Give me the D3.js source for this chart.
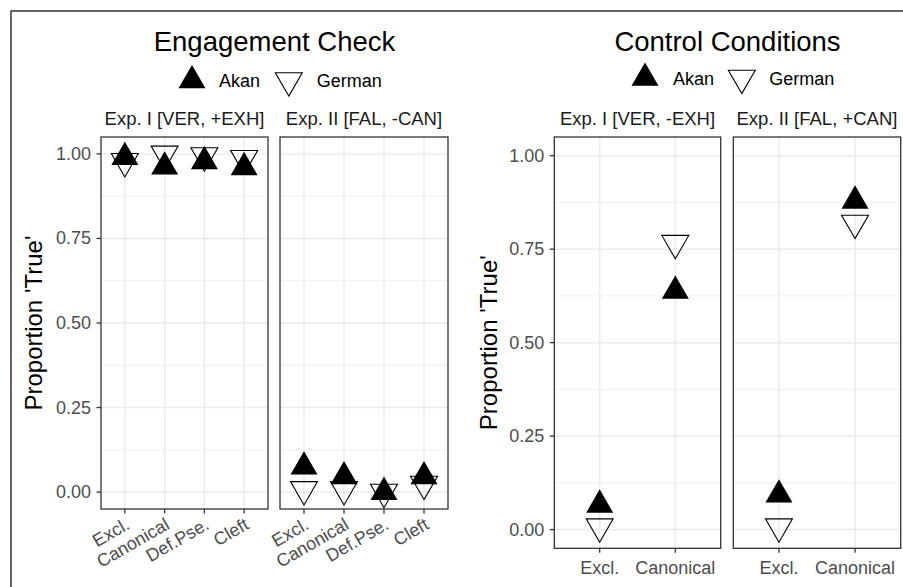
<!DOCTYPE html>
<html lang="en">
<head>
<meta charset="UTF-8">
<title>Engagement Check and Control Conditions</title>
<script src="https://d3js.org/d3.v7.min.js"></script>
<style>
  * { margin: 0; padding: 0; }
  body { background: white; width: 903px; height: 587px; overflow: hidden; }
  svg { display: block; font-family: "Liberation Sans", Arial, Helvetica, sans-serif; }
</style>
</head>
<body>
<svg id="chart" width="903" height="587"></svg>
<script>
// values
const engageConditions = ["Excl.", "Canonical", "Def.Pse.", "Cleft"];
const engageFacets = ["Exp. I [VER, +EXH]", "Exp. II [FAL, -CAN]"];
const engageAkan = [[0.99, 0.962, 0.978, 0.96], [0.075, 0.046, 0.0, 0.046]];
const engageGerman = [[0.978, 1.0, 0.995, 0.987], [0.008, 0.008, 0.0, 0.024]];

const controlConditions = ["Excl.", "Canonical"];
const controlFacets = ["Exp. I [VER, -EXH]", "Exp. II [FAL, +CAN]"];
const controlAkan = [[0.066, 0.638], [0.093, 0.879]];
const controlGerman = [[0.008, 0.766], [0.008, 0.82]];

const yTicks = [0, 0.25, 0.5, 0.75, 1];
const yMinor = [0.125, 0.375, 0.625, 0.875];
const groups = ["Akan", "German"];

const svg = d3.select("#chart");

// outer frame (cropped at right and bottom)
svg.append("path")
    .attr("d", "M11,600V11H910")
    .attr("fill", "none")
    .attr("stroke", "#333")
    .attr("stroke-width", 1.5);

const triangle = d3.symbol().type(d3.symbolTriangle).size(315);

function drawPlot(cfg) {
    const g = svg.append("g");
    const y = d3.scaleLinear().domain([-0.05, 1.05]).range([cfg.bottom, cfg.top]);

    g.append("text")
        .attr("x", cfg.titleX).attr("y", 51)
        .attr("text-anchor", "middle")
        .style("font-size", "27.5px")
        .text(cfg.title);

    // legend
    groups.forEach((grp, i) => {
        const key = g.append("path")
            .attr("d", triangle())
            .attr("transform", `translate(${cfg.keyX[i]},${cfg.legendY})` + (i === 1 ? " rotate(180)" : ""));
        if (i === 0) key.attr("fill", "#000");
        else key.attr("fill", "none").attr("stroke", "#000").attr("stroke-width", 1.1);
        g.append("text")
            .attr("x", cfg.textX[i]).attr("y", cfg.legendY + 6.5)
            .style("font-size", "18px")
            .text(grp);
    });

    // y axis title
    g.append("text")
        .attr("transform", `translate(${cfg.axisTitleX},${(cfg.top + cfg.bottom) / 2}) rotate(-90)`)
        .attr("text-anchor", "middle")
        .style("font-size", "24px")
        .text("Proportion 'True'");

    // y tick labels
    const left = cfg.panels[0][0];
    yTicks.forEach(t => {
        g.append("line")
            .attr("x1", left - 4.5).attr("x2", left)
            .attr("y1", y(t)).attr("y2", y(t))
            .attr("stroke", "#333").attr("stroke-width", 1.3);
        g.append("text")
            .attr("x", left - 10).attr("y", y(t))
            .attr("text-anchor", "end")
            .attr("dominant-baseline", "central")
            .attr("fill", "#4d4d4d")
            .style("font-size", "18px")
            .text(t.toFixed(2));
    });

    cfg.facets.forEach((facet, f) => {
        const [x0, x1] = cfg.panels[f];
        const x = d3.scalePoint().domain(cfg.conds).range([x0, x1]).padding(0.6);
        const p = g.append("g");

        p.append("text")
            .attr("x", (x0 + x1) / 2).attr("y", cfg.top - 12.5)
            .attr("text-anchor", "middle")
            .attr("fill", "#1a1a1a")
            .style("font-size", "18.5px")
            .text(facet);

        p.selectAll(".minor").data(yMinor).join("line")
            .attr("x1", x0).attr("x2", x1)
            .attr("y1", d => y(d)).attr("y2", d => y(d))
            .attr("stroke", "#ebebeb").attr("stroke-width", 0.8);
        p.selectAll(".major").data(yTicks).join("line")
            .attr("x1", x0).attr("x2", x1)
            .attr("y1", d => y(d)).attr("y2", d => y(d))
            .attr("stroke", "#ebebeb").attr("stroke-width", 1.5);
        p.selectAll(".vgrid").data(cfg.conds).join("line")
            .attr("x1", d => x(d)).attr("x2", d => x(d))
            .attr("y1", cfg.top).attr("y2", cfg.bottom)
            .attr("stroke", "#ebebeb").attr("stroke-width", 1.5);

        const pts = [];
        cfg.conds.forEach((c, i) => {
            pts.push({ cond: c, grp: "Akan", v: cfg.akan[f][i] });
            pts.push({ cond: c, grp: "German", v: cfg.german[f][i] });
        });
        p.selectAll(".pt").data(pts).join("path")
            .attr("d", triangle())
            .attr("transform", d => `translate(${x(d.cond)},${y(d.v)})` + (d.grp === "German" ? " rotate(180)" : ""))
            .attr("fill", d => d.grp === "Akan" ? "#000" : "none")
            .attr("stroke", d => d.grp === "German" ? "#000" : "none")
            .attr("stroke-width", 1.1);

        p.append("rect")
            .attr("x", x0).attr("y", cfg.top)
            .attr("width", x1 - x0).attr("height", cfg.bottom - cfg.top)
            .attr("fill", "none").attr("stroke", "#333").attr("stroke-width", 1.3);

        // x ticks and labels
        cfg.conds.forEach(c => {
            p.append("line")
                .attr("x1", x(c)).attr("x2", x(c))
                .attr("y1", cfg.bottom).attr("y2", cfg.bottom + 4.5)
                .attr("stroke", "#333").attr("stroke-width", 1.3);
            const lab = p.append("text")
                .attr("fill", "#4d4d4d")
                .style("font-size", "18px")
                .text(c);
            if (cfg.rotate) {
                lab.attr("text-anchor", "end")
                    .attr("transform", `translate(${x(c) + 6},${cfg.bottom + 19}) rotate(-30)`);
            } else {
                lab.attr("text-anchor", "middle")
                    .attr("x", x(c)).attr("y", cfg.bottom + 25.5);
            }
        });
    });
}

drawPlot({
    title: "Engagement Check",
    facets: engageFacets, conds: engageConditions,
    akan: engageAkan, german: engageGerman,
    panels: [[101, 268], [280, 448]], top: 137, bottom: 509,
    titleX: 274.5, legendY: 80.5, keyX: [192, 288.8], textX: [219, 316.7],
    axisTitleX: 42.3, rotate: true
});

drawPlot({
    title: "Control Conditions",
    facets: controlFacets, conds: controlConditions,
    akan: controlAkan, german: controlGerman,
    panels: [[554.3, 720.7], [733.3, 900.7]], top: 137, bottom: 548.3,
    titleX: 727.5, legendY: 78, keyX: [645, 741.8], textX: [673, 769.3],
    axisTitleX: 496.7, rotate: false
});
</script>
</body>
</html>
